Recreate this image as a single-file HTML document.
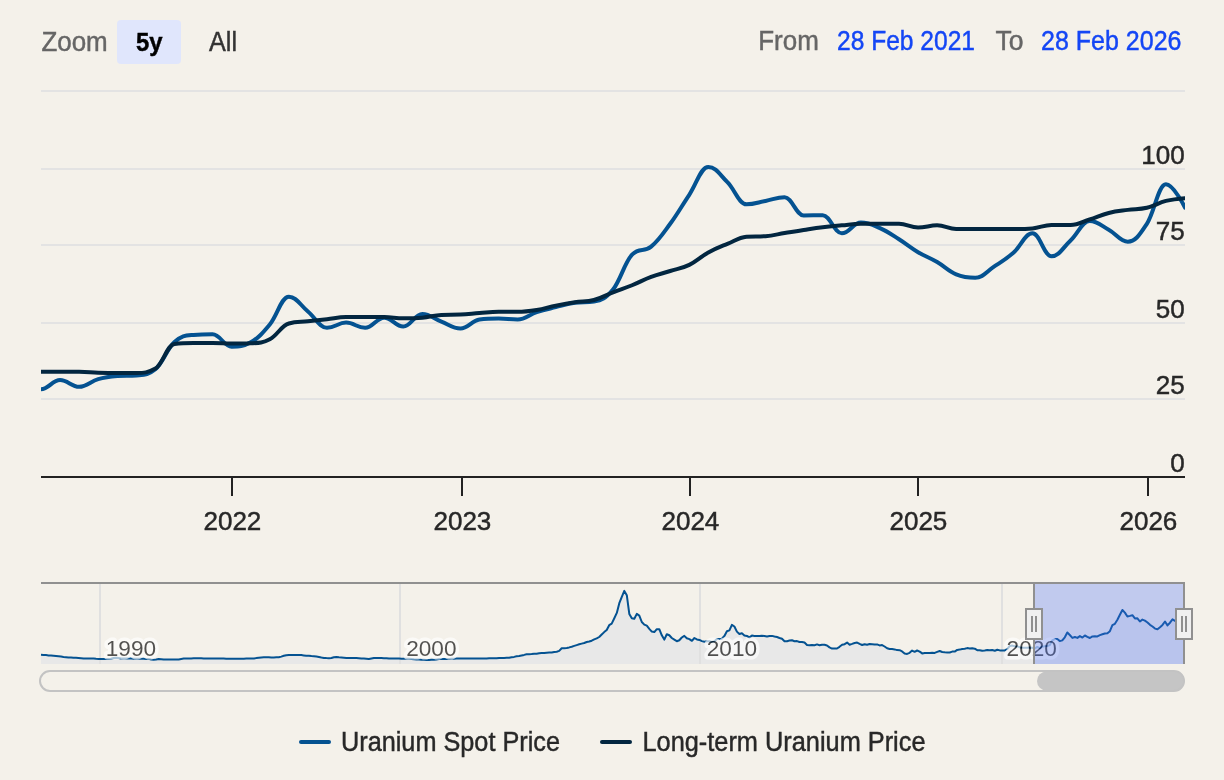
<!DOCTYPE html><html><head><meta charset="utf-8"><title>Uranium Price</title>
<style>html,body{margin:0;padding:0;background:#f4f1ea;}body{width:1224px;height:780px;overflow:hidden;font-family:"Liberation Sans",sans-serif;}svg{display:block;will-change:transform}text{font-family:"Liberation Sans",sans-serif;}</style></head><body>
<svg width="1224" height="780" viewBox="0 0 1224 780">
<rect x="0" y="0" width="1224" height="780" fill="#f4f1ea"/>
<rect x="41" y="90" width="1144" height="2" fill="#e3e3e3"/>
<rect x="41" y="168" width="1144" height="2" fill="#e3e3e3"/>
<rect x="41" y="244" width="1144" height="2" fill="#e3e3e3"/>
<rect x="41" y="322" width="1144" height="2" fill="#e3e3e3"/>
<rect x="41" y="398" width="1144" height="2" fill="#e3e3e3"/>
<text x="41.4" y="50.6" font-size="26.8" fill="#666666" textLength="66.3" lengthAdjust="spacingAndGlyphs" stroke="#666666" stroke-width="0.45">Zoom</text>
<rect x="117" y="20" width="64" height="44" rx="4" ry="4" fill="#e0e6fc"/>
<text x="135.9" y="50.6" font-size="26.4" font-weight="bold" fill="#000000" textLength="26.6" lengthAdjust="spacingAndGlyphs" stroke="#000000" stroke-width="0.45">5y</text>
<text x="209" y="50.6" font-size="26.8" fill="#333333" textLength="28" lengthAdjust="spacingAndGlyphs" stroke="#333333" stroke-width="0.45">All</text>
<text x="758.2" y="49.9" font-size="26.8" fill="#666666" textLength="60.6" lengthAdjust="spacingAndGlyphs" stroke="#666666" stroke-width="0.45">From</text>
<text x="837" y="49.9" font-size="26.8" fill="#1446f5" textLength="138" lengthAdjust="spacingAndGlyphs" stroke="#1446f5" stroke-width="0.45">28 Feb 2021</text>
<text x="995.4" y="49.9" font-size="26.8" fill="#666666" textLength="28" lengthAdjust="spacingAndGlyphs" stroke="#666666" stroke-width="0.45">To</text>
<text x="1041" y="49.9" font-size="26.8" fill="#1446f5" textLength="140.5" lengthAdjust="spacingAndGlyphs" stroke="#1446f5" stroke-width="0.45">28 Feb 2026</text>
<defs><clipPath id="pc"><rect x="41" y="80" width="1144" height="398"/></clipPath></defs>
<g clip-path="url(#pc)" fill="none" stroke-linejoin="round" stroke-linecap="round">
<path d="M21.93 385.50 C21.93 385.50 33.37 389.30 41.00 389.30 C48.63 389.30 52.44 380.04 60.07 380.04 C67.69 380.04 71.51 386.83 79.13 386.83 C86.76 386.83 90.57 381.27 98.20 379.11 C105.83 376.95 109.64 376.64 117.27 376.02 C124.89 375.40 128.71 376.02 136.33 375.40 C143.96 374.79 147.77 375.40 155.40 369.23 C163.03 363.05 166.84 348.91 174.47 342.05 C182.09 335.20 185.91 335.57 193.53 334.95 C201.16 334.33 204.97 334.33 212.60 334.33 C220.23 334.33 224.04 346.69 231.67 346.69 C239.29 346.69 243.11 346.69 250.73 342.36 C258.36 338.04 262.17 333.59 269.80 324.45 C277.43 315.31 281.24 296.66 288.87 296.66 C296.49 296.66 300.31 305.25 307.93 311.48 C315.56 317.72 319.37 327.85 327.00 327.85 C334.63 327.85 338.44 322.60 346.07 322.60 C353.69 322.60 357.51 327.85 365.13 327.85 C372.76 327.85 376.57 317.66 384.20 317.66 C391.83 317.66 395.64 326.61 403.27 326.61 C410.89 326.61 414.71 313.95 422.33 313.95 C429.96 313.95 433.77 318.77 441.40 321.67 C449.03 324.58 452.84 328.47 460.47 328.47 C468.09 328.47 471.91 320.44 479.53 319.51 C487.16 318.59 490.97 318.59 498.60 318.59 C506.23 318.59 510.04 319.51 517.67 319.51 C525.29 319.51 529.11 314.57 536.73 312.10 C544.36 309.63 548.17 309.01 555.80 307.16 C563.43 305.31 567.24 303.95 574.87 302.84 C582.49 301.73 586.31 302.84 593.93 301.60 C601.56 300.37 605.37 298.95 613.00 289.56 C620.63 280.17 624.44 262.69 632.07 254.66 C639.69 246.64 643.51 252.81 651.13 246.64 C658.76 240.46 662.57 234.16 670.20 223.78 C677.83 213.41 681.64 206.12 689.27 194.76 C696.89 183.39 700.71 166.96 708.33 166.96 C715.96 166.96 719.77 174.62 727.40 182.10 C735.03 189.57 738.84 204.33 746.47 204.33 C754.09 204.33 757.91 202.35 765.53 200.93 C773.16 199.51 776.97 197.23 784.60 197.23 C792.23 197.23 796.04 215.45 803.67 215.45 C811.29 215.45 815.11 215.14 822.73 215.14 C830.36 215.14 834.17 233.36 841.80 233.36 C849.43 233.36 853.24 222.55 860.87 222.55 C868.49 222.55 872.31 224.77 879.93 228.11 C887.56 231.44 891.37 234.41 899.00 239.22 C906.63 244.04 910.44 247.62 918.07 252.19 C925.69 256.76 929.51 257.63 937.13 262.08 C944.76 266.52 948.57 271.28 956.20 274.43 C963.83 277.58 967.64 277.82 975.27 277.82 C982.89 277.82 986.71 271.40 994.33 266.40 C1001.96 261.40 1005.77 259.42 1013.40 252.81 C1021.03 246.20 1024.84 233.36 1032.47 233.36 C1040.09 233.36 1043.91 256.21 1051.53 256.21 C1059.16 256.21 1062.97 247.50 1070.60 240.46 C1078.23 233.42 1082.04 221.00 1089.67 221.00 C1097.29 221.00 1101.11 225.51 1108.73 229.65 C1116.36 233.79 1120.17 241.69 1127.80 241.69 C1135.43 241.69 1139.24 235.27 1146.87 223.78 C1154.49 212.30 1158.31 184.26 1165.93 184.26 C1173.56 184.26 1185.00 207.73 1185.00 207.73" stroke="#045291" stroke-width="4"/>
<path d="M21.93 372.01 C21.93 372.01 33.37 371.85 41.00 371.85 C48.63 371.85 52.44 371.85 60.07 371.85 C67.69 371.85 71.51 371.85 79.13 371.85 C86.76 371.85 90.57 372.41 98.20 372.63 C105.83 372.84 109.64 372.93 117.27 372.93 C124.89 372.93 128.71 372.93 136.33 372.93 C143.96 372.93 147.77 372.93 155.40 368.61 C163.03 364.29 166.84 344.83 174.47 343.91 C182.09 342.98 185.91 342.98 193.53 342.98 C201.16 342.98 204.97 342.98 212.60 342.98 C220.23 342.98 224.04 343.60 231.67 343.60 C239.29 343.60 243.11 343.60 250.73 343.29 C258.36 342.98 262.17 343.23 269.80 339.28 C277.43 335.32 281.24 325.69 288.87 323.53 C296.49 321.36 300.31 322.23 307.93 321.36 C315.56 320.50 319.37 320.07 327.00 319.20 C334.63 318.34 338.44 317.04 346.07 317.04 C353.69 317.04 357.51 317.04 365.13 317.04 C372.76 317.04 376.57 317.04 384.20 317.04 C391.83 317.04 395.64 318.28 403.27 318.28 C410.89 318.28 414.71 318.28 422.33 317.66 C429.96 317.04 433.77 315.19 441.40 314.88 C449.03 314.57 452.84 314.88 460.47 314.57 C468.09 314.26 471.91 313.58 479.53 313.03 C487.16 312.47 490.97 311.79 498.60 311.79 C506.23 311.79 510.04 311.79 517.67 311.79 C525.29 311.79 529.11 311.17 536.73 309.94 C544.36 308.70 548.17 307.16 555.80 305.62 C563.43 304.07 567.24 303.33 574.87 302.22 C582.49 301.11 586.31 302.03 593.93 300.06 C601.56 298.08 605.37 295.30 613.00 292.34 C620.63 289.37 624.44 288.32 632.07 285.24 C639.69 282.15 643.51 279.74 651.13 276.90 C658.76 274.06 662.57 273.44 670.20 271.03 C677.83 268.62 681.64 268.56 689.27 264.85 C696.89 261.15 700.71 256.70 708.33 252.50 C715.96 248.30 719.77 247.01 727.40 243.86 C735.03 240.71 738.84 237.37 746.47 236.75 C754.09 236.14 757.91 236.75 765.53 236.14 C773.16 235.52 776.97 234.28 784.60 233.05 C792.23 231.81 796.04 231.13 803.67 229.96 C811.29 228.79 815.11 228.11 822.73 227.18 C830.36 226.25 834.17 226.01 841.80 225.33 C849.43 224.65 853.24 223.78 860.87 223.78 C868.49 223.78 872.31 223.78 879.93 223.78 C887.56 223.78 891.37 223.78 899.00 223.78 C906.63 223.78 910.44 227.49 918.07 227.49 C925.69 227.49 929.51 225.33 937.13 225.33 C944.76 225.33 948.57 229.03 956.20 229.03 C963.83 229.03 967.64 229.03 975.27 229.03 C982.89 229.03 986.71 229.03 994.33 229.03 C1001.96 229.03 1005.77 229.03 1013.40 229.03 C1021.03 229.03 1024.84 229.03 1032.47 228.42 C1040.09 227.80 1043.91 225.02 1051.53 225.02 C1059.16 225.02 1062.97 225.02 1070.60 225.02 C1078.23 225.02 1082.04 221.87 1089.67 219.46 C1097.29 217.05 1101.11 214.89 1108.73 212.98 C1116.36 211.06 1120.17 210.94 1127.80 209.89 C1135.43 208.84 1139.24 209.52 1146.87 207.73 C1154.49 205.94 1158.31 202.85 1165.93 200.93 C1173.56 199.02 1185.00 198.15 1185.00 198.15" stroke="#022640" stroke-width="4"/>
</g>
<rect x="41" y="476" width="1144" height="2" fill="#222222"/>
<rect x="231" y="478" width="2" height="18" fill="#222222"/>
<text x="232.4" y="530.3" font-size="26.5" fill="#282828" text-anchor="middle" textLength="57.9" lengthAdjust="spacingAndGlyphs" stroke="#282828" stroke-width="0.45">2022</text>
<rect x="461" y="478" width="2" height="18" fill="#222222"/>
<text x="462.4" y="530.3" font-size="26.5" fill="#282828" text-anchor="middle" textLength="57.9" lengthAdjust="spacingAndGlyphs" stroke="#282828" stroke-width="0.45">2023</text>
<rect x="689" y="478" width="2" height="18" fill="#222222"/>
<text x="690.4" y="530.3" font-size="26.5" fill="#282828" text-anchor="middle" textLength="57.9" lengthAdjust="spacingAndGlyphs" stroke="#282828" stroke-width="0.45">2024</text>
<rect x="917" y="478" width="2" height="18" fill="#222222"/>
<text x="918.4" y="530.3" font-size="26.5" fill="#282828" text-anchor="middle" textLength="57.9" lengthAdjust="spacingAndGlyphs" stroke="#282828" stroke-width="0.45">2025</text>
<rect x="1147" y="478" width="2" height="18" fill="#222222"/>
<text x="1148.4" y="530.3" font-size="26.5" fill="#282828" text-anchor="middle" textLength="57.9" lengthAdjust="spacingAndGlyphs" stroke="#282828" stroke-width="0.45">2026</text>
<text x="1184.8" y="164" font-size="26.5" fill="#282828" text-anchor="end" textLength="43.5" lengthAdjust="spacingAndGlyphs" stroke="#282828" stroke-width="0.45">100</text>
<text x="1184.8" y="240" font-size="26.5" fill="#282828" text-anchor="end" textLength="29.0" lengthAdjust="spacingAndGlyphs" stroke="#282828" stroke-width="0.45">75</text>
<text x="1184.8" y="318" font-size="26.5" fill="#282828" text-anchor="end" textLength="29.0" lengthAdjust="spacingAndGlyphs" stroke="#282828" stroke-width="0.45">50</text>
<text x="1184.8" y="394" font-size="26.5" fill="#282828" text-anchor="end" textLength="29.0" lengthAdjust="spacingAndGlyphs" stroke="#282828" stroke-width="0.45">25</text>
<text x="1184.8" y="472" font-size="26.5" fill="#282828" text-anchor="end" textLength="14.5" lengthAdjust="spacingAndGlyphs" stroke="#282828" stroke-width="0.45">0</text>
<path d="M41.0 654.8 L43.5 655.0 L46.0 655.1 L48.5 655.4 L51.0 655.6 L53.5 655.8 L56.0 656.0 L58.5 656.2 L61.0 656.5 L63.5 656.9 L66.0 657.2 L68.5 657.5 L71.0 657.5 L73.5 657.7 L76.0 657.8 L78.5 658.0 L81.1 658.2 L83.6 658.4 L86.1 658.4 L88.6 658.5 L91.1 658.5 L93.6 658.6 L96.1 658.8 L98.6 658.9 L101.1 658.9 L103.6 658.9 L106.1 659.0 L108.6 659.0 L111.1 658.8 L113.6 658.0 L116.1 657.7 L118.6 658.1 L121.1 658.6 L123.6 658.4 L126.1 658.5 L128.6 658.5 L131.1 658.6 L133.6 658.7 L136.1 658.8 L138.6 658.7 L141.1 658.7 L143.6 658.8 L146.1 658.9 L148.6 658.9 L151.1 659.5 L153.6 659.7 L156.2 659.5 L158.7 659.0 L161.2 659.2 L163.7 659.5 L166.2 659.5 L168.7 659.5 L171.2 659.5 L173.7 659.5 L176.2 659.5 L178.7 659.4 L181.2 659.0 L183.7 658.6 L186.2 658.5 L188.7 658.4 L191.2 658.4 L193.7 658.3 L196.2 658.3 L198.7 658.3 L201.2 658.3 L203.7 658.4 L206.2 658.4 L208.7 658.4 L211.2 658.5 L213.7 658.5 L216.2 658.6 L218.7 658.6 L221.2 658.6 L223.7 658.6 L226.2 658.7 L228.7 658.7 L231.2 658.7 L233.8 658.7 L236.3 658.7 L238.8 658.7 L241.3 658.7 L243.8 658.7 L246.3 658.6 L248.8 658.6 L251.3 658.5 L253.8 658.4 L256.3 658.1 L258.8 657.7 L261.3 657.4 L263.8 657.3 L266.3 657.3 L268.8 657.3 L271.3 657.4 L273.8 657.4 L276.3 657.3 L278.8 657.2 L281.3 656.6 L283.8 655.8 L286.3 655.2 L288.8 655.0 L291.3 654.9 L293.8 654.9 L296.3 654.9 L298.8 655.0 L301.3 655.1 L303.8 655.4 L306.3 655.7 L308.9 655.8 L311.4 656.1 L313.9 656.3 L316.4 656.5 L318.9 657.0 L321.4 657.5 L323.9 657.9 L326.4 658.1 L328.9 658.2 L331.4 658.0 L333.9 657.2 L336.4 657.0 L338.9 657.3 L341.4 657.5 L343.9 657.7 L346.4 657.9 L348.9 658.0 L351.4 658.0 L353.9 658.1 L356.4 658.1 L358.9 658.2 L361.4 658.4 L363.9 658.6 L366.4 658.8 L368.9 659.0 L371.4 658.5 L373.9 658.0 L376.4 657.9 L378.9 658.0 L381.4 658.1 L383.9 658.2 L386.5 658.2 L389.0 658.4 L391.5 658.4 L394.0 658.5 L396.5 658.5 L399.0 658.6 L401.5 658.7 L404.0 658.7 L406.5 658.8 L409.0 658.8 L411.5 658.9 L414.0 659.2 L416.5 659.4 L419.0 659.5 L421.5 659.7 L424.0 659.8 L426.5 659.9 L429.0 659.9 L431.5 659.8 L434.0 659.7 L436.5 659.4 L439.0 659.1 L441.5 658.9 L444.0 658.9 L446.5 658.9 L449.0 658.9 L451.5 658.8 L454.0 658.7 L456.5 658.6 L459.0 658.6 L461.6 658.5 L464.1 658.4 L466.6 658.4 L469.1 658.4 L471.6 658.4 L474.1 658.4 L476.6 658.4 L479.1 658.5 L481.6 658.5 L484.1 658.5 L486.6 658.4 L489.1 658.2 L491.6 658.2 L494.1 658.3 L496.6 658.3 L499.1 658.0 L501.6 657.9 L504.1 657.9 L506.6 657.8 L509.1 657.7 L511.6 657.2 L514.1 656.9 L516.6 656.3 L519.1 655.9 L521.6 655.4 L524.1 654.9 L526.6 654.3 L529.1 654.2 L531.6 654.1 L534.1 653.8 L536.6 653.8 L539.2 653.3 L541.7 653.0 L544.2 652.9 L546.7 652.7 L549.2 652.6 L551.7 652.5 L554.2 652.0 L556.7 651.7 L559.2 650.9 L561.7 648.2 L564.2 648.2 L566.7 647.9 L569.2 647.4 L571.7 646.7 L574.2 645.9 L576.7 645.1 L579.2 644.3 L581.7 643.6 L584.2 643.0 L586.7 642.0 L589.2 641.5 L591.7 640.7 L594.2 639.4 L596.7 638.4 L599.2 637.0 L601.7 634.5 L604.2 632.1 L606.7 630.0 L609.2 625.2 L611.7 623.6 L614.3 618.2 L616.8 612.9 L619.3 603.2 L621.8 596.8 L624.3 590.9 L626.8 595.2 L629.3 613.9 L631.8 618.2 L634.3 618.8 L636.8 613.9 L639.3 615.6 L641.8 622.0 L644.3 624.6 L646.8 625.7 L649.3 628.9 L651.8 631.6 L654.3 632.1 L656.8 629.2 L659.3 629.2 L661.8 635.3 L664.3 639.6 L666.8 634.3 L669.3 635.3 L671.8 638.0 L674.3 639.6 L676.8 641.2 L679.3 640.2 L681.8 637.5 L684.3 635.9 L686.8 638.3 L689.4 639.1 L691.9 640.8 L694.4 638.0 L696.9 639.4 L699.4 639.9 L701.9 641.1 L704.4 641.8 L706.9 641.3 L709.4 641.3 L711.9 641.9 L714.4 641.3 L716.9 639.1 L719.4 639.1 L721.9 638.7 L724.4 635.9 L726.9 631.3 L729.4 630.4 L731.9 624.9 L734.4 626.5 L736.9 631.6 L739.4 634.0 L741.9 633.2 L744.4 635.4 L746.9 635.9 L749.4 637.4 L751.9 635.6 L754.4 635.9 L756.9 635.9 L759.4 635.9 L761.9 635.8 L764.4 635.9 L767.0 636.4 L769.5 635.9 L772.0 635.9 L774.5 636.5 L777.0 637.0 L779.5 638.0 L782.0 638.8 L784.5 641.3 L787.0 641.2 L789.5 640.5 L792.0 640.2 L794.5 641.2 L797.0 641.1 L799.5 642.0 L802.0 642.0 L804.5 642.5 L807.0 645.0 L809.5 645.2 L812.0 645.0 L814.5 645.2 L817.0 644.4 L819.5 645.2 L822.0 644.7 L824.5 644.8 L827.0 645.5 L829.5 647.4 L832.0 648.6 L834.5 648.6 L837.0 648.5 L839.5 646.8 L842.1 644.8 L844.6 644.2 L847.1 642.6 L849.6 644.7 L852.1 643.9 L854.6 643.0 L857.1 642.6 L859.6 643.9 L862.1 645.0 L864.6 644.2 L867.1 644.7 L869.6 644.0 L872.1 644.2 L874.6 644.4 L877.1 644.4 L879.6 645.4 L882.1 645.1 L884.6 646.5 L887.1 648.3 L889.6 649.0 L892.1 649.1 L894.6 649.4 L897.1 650.1 L899.6 650.2 L902.1 651.4 L904.6 653.6 L907.1 653.9 L909.6 652.8 L912.1 650.6 L914.6 651.8 L917.1 650.5 L919.7 651.6 L922.2 653.4 L924.7 652.9 L927.2 652.9 L929.7 652.9 L932.2 652.8 L934.7 652.9 L937.2 651.9 L939.7 651.0 L942.2 652.0 L944.7 652.3 L947.2 652.4 L949.7 652.5 L952.2 651.6 L954.7 651.6 L957.2 649.9 L959.7 649.6 L962.2 649.0 L964.7 648.7 L967.2 648.1 L969.7 648.5 L972.2 648.2 L974.7 648.7 L977.2 650.2 L979.7 650.2 L982.2 650.8 L984.7 650.5 L987.2 650.1 L989.7 650.2 L992.2 650.0 L994.8 650.7 L997.3 649.7 L999.8 650.4 L1002.3 650.5 L1004.8 650.4 L1007.3 649.0 L1009.8 645.9 L1012.3 645.6 L1014.8 646.2 L1017.3 646.4 L1019.8 647.2 L1022.3 647.7 L1024.8 647.8 L1027.3 647.8 L1029.8 647.5 L1032.3 647.8 L1034.8 648.5 L1037.3 646.9 L1039.8 648.1 L1042.3 646.7 L1044.8 646.2 L1047.3 646.1 L1049.8 645.0 L1052.3 640.3 L1054.8 639.1 L1057.3 639.0 L1059.8 641.1 L1062.3 640.4 L1064.8 637.3 L1067.3 632.5 L1069.8 635.0 L1072.4 637.9 L1074.9 637.0 L1077.4 637.9 L1079.9 636.1 L1082.4 637.6 L1084.9 635.5 L1087.4 636.8 L1089.9 638.0 L1092.4 636.4 L1094.9 636.3 L1097.4 636.4 L1099.9 635.1 L1102.4 634.3 L1104.9 633.5 L1107.4 633.3 L1109.9 631.2 L1112.4 625.2 L1114.9 623.8 L1117.4 619.8 L1119.9 614.8 L1122.4 610.0 L1124.9 612.6 L1127.4 616.5 L1129.9 615.9 L1132.4 615.2 L1134.9 618.4 L1137.4 618.3 L1139.9 621.5 L1142.4 619.6 L1144.9 620.6 L1147.5 622.5 L1150.0 624.8 L1152.5 626.5 L1155.0 628.6 L1157.5 629.2 L1160.0 627.2 L1162.5 624.9 L1165.0 621.5 L1167.5 625.4 L1170.0 622.7 L1172.5 619.3 L1175.0 620.8 L1177.5 622.9 L1180.0 619.8 L1182.5 613.0 L1185.0 617.0 L1185.0 664.0 L41.0 664.0 Z" fill="#e8e8e8" stroke="none"/>
<rect x="99" y="584" width="2" height="80" fill="#e0e0e0"/>
<rect x="399" y="584" width="2" height="80" fill="#e0e0e0"/>
<rect x="699" y="584" width="2" height="80" fill="#e0e0e0"/>
<rect x="1001" y="584" width="2" height="80" fill="#e0e0e0"/>
<path d="M41.0 654.8 L43.5 655.0 L46.0 655.1 L48.5 655.4 L51.0 655.6 L53.5 655.8 L56.0 656.0 L58.5 656.2 L61.0 656.5 L63.5 656.9 L66.0 657.2 L68.5 657.5 L71.0 657.5 L73.5 657.7 L76.0 657.8 L78.5 658.0 L81.1 658.2 L83.6 658.4 L86.1 658.4 L88.6 658.5 L91.1 658.5 L93.6 658.6 L96.1 658.8 L98.6 658.9 L101.1 658.9 L103.6 658.9 L106.1 659.0 L108.6 659.0 L111.1 658.8 L113.6 658.0 L116.1 657.7 L118.6 658.1 L121.1 658.6 L123.6 658.4 L126.1 658.5 L128.6 658.5 L131.1 658.6 L133.6 658.7 L136.1 658.8 L138.6 658.7 L141.1 658.7 L143.6 658.8 L146.1 658.9 L148.6 658.9 L151.1 659.5 L153.6 659.7 L156.2 659.5 L158.7 659.0 L161.2 659.2 L163.7 659.5 L166.2 659.5 L168.7 659.5 L171.2 659.5 L173.7 659.5 L176.2 659.5 L178.7 659.4 L181.2 659.0 L183.7 658.6 L186.2 658.5 L188.7 658.4 L191.2 658.4 L193.7 658.3 L196.2 658.3 L198.7 658.3 L201.2 658.3 L203.7 658.4 L206.2 658.4 L208.7 658.4 L211.2 658.5 L213.7 658.5 L216.2 658.6 L218.7 658.6 L221.2 658.6 L223.7 658.6 L226.2 658.7 L228.7 658.7 L231.2 658.7 L233.8 658.7 L236.3 658.7 L238.8 658.7 L241.3 658.7 L243.8 658.7 L246.3 658.6 L248.8 658.6 L251.3 658.5 L253.8 658.4 L256.3 658.1 L258.8 657.7 L261.3 657.4 L263.8 657.3 L266.3 657.3 L268.8 657.3 L271.3 657.4 L273.8 657.4 L276.3 657.3 L278.8 657.2 L281.3 656.6 L283.8 655.8 L286.3 655.2 L288.8 655.0 L291.3 654.9 L293.8 654.9 L296.3 654.9 L298.8 655.0 L301.3 655.1 L303.8 655.4 L306.3 655.7 L308.9 655.8 L311.4 656.1 L313.9 656.3 L316.4 656.5 L318.9 657.0 L321.4 657.5 L323.9 657.9 L326.4 658.1 L328.9 658.2 L331.4 658.0 L333.9 657.2 L336.4 657.0 L338.9 657.3 L341.4 657.5 L343.9 657.7 L346.4 657.9 L348.9 658.0 L351.4 658.0 L353.9 658.1 L356.4 658.1 L358.9 658.2 L361.4 658.4 L363.9 658.6 L366.4 658.8 L368.9 659.0 L371.4 658.5 L373.9 658.0 L376.4 657.9 L378.9 658.0 L381.4 658.1 L383.9 658.2 L386.5 658.2 L389.0 658.4 L391.5 658.4 L394.0 658.5 L396.5 658.5 L399.0 658.6 L401.5 658.7 L404.0 658.7 L406.5 658.8 L409.0 658.8 L411.5 658.9 L414.0 659.2 L416.5 659.4 L419.0 659.5 L421.5 659.7 L424.0 659.8 L426.5 659.9 L429.0 659.9 L431.5 659.8 L434.0 659.7 L436.5 659.4 L439.0 659.1 L441.5 658.9 L444.0 658.9 L446.5 658.9 L449.0 658.9 L451.5 658.8 L454.0 658.7 L456.5 658.6 L459.0 658.6 L461.6 658.5 L464.1 658.4 L466.6 658.4 L469.1 658.4 L471.6 658.4 L474.1 658.4 L476.6 658.4 L479.1 658.5 L481.6 658.5 L484.1 658.5 L486.6 658.4 L489.1 658.2 L491.6 658.2 L494.1 658.3 L496.6 658.3 L499.1 658.0 L501.6 657.9 L504.1 657.9 L506.6 657.8 L509.1 657.7 L511.6 657.2 L514.1 656.9 L516.6 656.3 L519.1 655.9 L521.6 655.4 L524.1 654.9 L526.6 654.3 L529.1 654.2 L531.6 654.1 L534.1 653.8 L536.6 653.8 L539.2 653.3 L541.7 653.0 L544.2 652.9 L546.7 652.7 L549.2 652.6 L551.7 652.5 L554.2 652.0 L556.7 651.7 L559.2 650.9 L561.7 648.2 L564.2 648.2 L566.7 647.9 L569.2 647.4 L571.7 646.7 L574.2 645.9 L576.7 645.1 L579.2 644.3 L581.7 643.6 L584.2 643.0 L586.7 642.0 L589.2 641.5 L591.7 640.7 L594.2 639.4 L596.7 638.4 L599.2 637.0 L601.7 634.5 L604.2 632.1 L606.7 630.0 L609.2 625.2 L611.7 623.6 L614.3 618.2 L616.8 612.9 L619.3 603.2 L621.8 596.8 L624.3 590.9 L626.8 595.2 L629.3 613.9 L631.8 618.2 L634.3 618.8 L636.8 613.9 L639.3 615.6 L641.8 622.0 L644.3 624.6 L646.8 625.7 L649.3 628.9 L651.8 631.6 L654.3 632.1 L656.8 629.2 L659.3 629.2 L661.8 635.3 L664.3 639.6 L666.8 634.3 L669.3 635.3 L671.8 638.0 L674.3 639.6 L676.8 641.2 L679.3 640.2 L681.8 637.5 L684.3 635.9 L686.8 638.3 L689.4 639.1 L691.9 640.8 L694.4 638.0 L696.9 639.4 L699.4 639.9 L701.9 641.1 L704.4 641.8 L706.9 641.3 L709.4 641.3 L711.9 641.9 L714.4 641.3 L716.9 639.1 L719.4 639.1 L721.9 638.7 L724.4 635.9 L726.9 631.3 L729.4 630.4 L731.9 624.9 L734.4 626.5 L736.9 631.6 L739.4 634.0 L741.9 633.2 L744.4 635.4 L746.9 635.9 L749.4 637.4 L751.9 635.6 L754.4 635.9 L756.9 635.9 L759.4 635.9 L761.9 635.8 L764.4 635.9 L767.0 636.4 L769.5 635.9 L772.0 635.9 L774.5 636.5 L777.0 637.0 L779.5 638.0 L782.0 638.8 L784.5 641.3 L787.0 641.2 L789.5 640.5 L792.0 640.2 L794.5 641.2 L797.0 641.1 L799.5 642.0 L802.0 642.0 L804.5 642.5 L807.0 645.0 L809.5 645.2 L812.0 645.0 L814.5 645.2 L817.0 644.4 L819.5 645.2 L822.0 644.7 L824.5 644.8 L827.0 645.5 L829.5 647.4 L832.0 648.6 L834.5 648.6 L837.0 648.5 L839.5 646.8 L842.1 644.8 L844.6 644.2 L847.1 642.6 L849.6 644.7 L852.1 643.9 L854.6 643.0 L857.1 642.6 L859.6 643.9 L862.1 645.0 L864.6 644.2 L867.1 644.7 L869.6 644.0 L872.1 644.2 L874.6 644.4 L877.1 644.4 L879.6 645.4 L882.1 645.1 L884.6 646.5 L887.1 648.3 L889.6 649.0 L892.1 649.1 L894.6 649.4 L897.1 650.1 L899.6 650.2 L902.1 651.4 L904.6 653.6 L907.1 653.9 L909.6 652.8 L912.1 650.6 L914.6 651.8 L917.1 650.5 L919.7 651.6 L922.2 653.4 L924.7 652.9 L927.2 652.9 L929.7 652.9 L932.2 652.8 L934.7 652.9 L937.2 651.9 L939.7 651.0 L942.2 652.0 L944.7 652.3 L947.2 652.4 L949.7 652.5 L952.2 651.6 L954.7 651.6 L957.2 649.9 L959.7 649.6 L962.2 649.0 L964.7 648.7 L967.2 648.1 L969.7 648.5 L972.2 648.2 L974.7 648.7 L977.2 650.2 L979.7 650.2 L982.2 650.8 L984.7 650.5 L987.2 650.1 L989.7 650.2 L992.2 650.0 L994.8 650.7 L997.3 649.7 L999.8 650.4 L1002.3 650.5 L1004.8 650.4 L1007.3 649.0 L1009.8 645.9 L1012.3 645.6 L1014.8 646.2 L1017.3 646.4 L1019.8 647.2 L1022.3 647.7 L1024.8 647.8 L1027.3 647.8 L1029.8 647.5 L1032.3 647.8 L1034.8 648.5 L1037.3 646.9 L1039.8 648.1 L1042.3 646.7 L1044.8 646.2 L1047.3 646.1 L1049.8 645.0 L1052.3 640.3 L1054.8 639.1 L1057.3 639.0 L1059.8 641.1 L1062.3 640.4 L1064.8 637.3 L1067.3 632.5 L1069.8 635.0 L1072.4 637.9 L1074.9 637.0 L1077.4 637.9 L1079.9 636.1 L1082.4 637.6 L1084.9 635.5 L1087.4 636.8 L1089.9 638.0 L1092.4 636.4 L1094.9 636.3 L1097.4 636.4 L1099.9 635.1 L1102.4 634.3 L1104.9 633.5 L1107.4 633.3 L1109.9 631.2 L1112.4 625.2 L1114.9 623.8 L1117.4 619.8 L1119.9 614.8 L1122.4 610.0 L1124.9 612.6 L1127.4 616.5 L1129.9 615.9 L1132.4 615.2 L1134.9 618.4 L1137.4 618.3 L1139.9 621.5 L1142.4 619.6 L1144.9 620.6 L1147.5 622.5 L1150.0 624.8 L1152.5 626.5 L1155.0 628.6 L1157.5 629.2 L1160.0 627.2 L1162.5 624.9 L1165.0 621.5 L1167.5 625.4 L1170.0 622.7 L1172.5 619.3 L1175.0 620.8 L1177.5 622.9 L1180.0 619.8 L1182.5 613.0 L1185.0 617.0" fill="none" stroke="#045291" stroke-width="2" stroke-linejoin="round"/>
<g opacity="0.66">
<text x="105.8" y="655.6" font-size="22.9" fill="#000000" stroke="#ffffff" stroke-width="7" stroke-linejoin="round" paint-order="stroke" textLength="50.3" lengthAdjust="spacingAndGlyphs">1990</text>
<text x="406.2" y="655.6" font-size="22.9" fill="#000000" stroke="#ffffff" stroke-width="7" stroke-linejoin="round" paint-order="stroke" textLength="50.3" lengthAdjust="spacingAndGlyphs">2000</text>
<text x="706.8" y="655.6" font-size="22.9" fill="#000000" stroke="#ffffff" stroke-width="7" stroke-linejoin="round" paint-order="stroke" textLength="50.3" lengthAdjust="spacingAndGlyphs">2010</text>
<text x="1006.6" y="655.6" font-size="22.9" fill="#000000" stroke="#ffffff" stroke-width="7" stroke-linejoin="round" paint-order="stroke" textLength="50.3" lengthAdjust="spacingAndGlyphs">2020</text>
</g>
<rect x="1034" y="583" width="150" height="81" fill="#4d6ff7" fill-opacity="0.3"/>
<path d="M41 583 L1034 583 L1034 664 M1184 664 L1184 583 L1185 583 M1033 583 L1185 583" fill="none" stroke="#909090" stroke-width="2"/>
<rect x="1026" y="609" width="16" height="30" fill="#f0f0f0" stroke="#909090" stroke-width="2"/>
<rect x="1031" y="616" width="2" height="16" fill="#909090"/>
<rect x="1035" y="616" width="2" height="16" fill="#909090"/>
<rect x="1176" y="609" width="16" height="30" fill="#f0f0f0" stroke="#909090" stroke-width="2"/>
<rect x="1181" y="616" width="2" height="16" fill="#909090"/>
<rect x="1185" y="616" width="2" height="16" fill="#909090"/>
<rect x="1037" y="671.5" width="147.5" height="19" rx="9.5" ry="9.5" fill="#c5c5c5"/>
<rect x="40" y="671" width="1144" height="20" rx="10" ry="10" fill="none" stroke="#c3c3c3" stroke-width="2"/>
<path d="M301 742 L329 742" stroke="#045291" stroke-width="4" stroke-linecap="round"/>
<text x="341" y="750.5" font-size="26.8" fill="#282828" textLength="219" lengthAdjust="spacingAndGlyphs" stroke="#282828" stroke-width="0.45">Uranium Spot Price</text>
<path d="M602 742 L630 742" stroke="#022640" stroke-width="4" stroke-linecap="round"/>
<text x="642.5" y="750.5" font-size="26.8" fill="#282828" textLength="283" lengthAdjust="spacingAndGlyphs" stroke="#282828" stroke-width="0.45">Long-term Uranium Price</text>
</svg></body></html>
